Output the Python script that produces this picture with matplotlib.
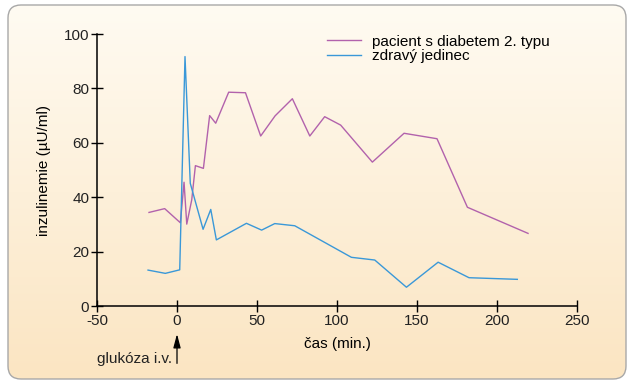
import matplotlib
matplotlib.use("Agg")
import matplotlib.pyplot as plt
import numpy as np
from matplotlib.patches import FancyBboxPatch

plt.rcParams['font.family'] = ['Liberation Sans', 'DejaVu Sans']
plt.rcParams['axes.unicode_minus'] = False

diab_t = [-17.5, -7.7, 2.1, 4.4, 6.1, 9.2, 11.5, 16.5, 20.4, 24.2, 32.3, 42.8, 52.3, 61.3, 72.1, 83.0, 92.3, 102.3, 122.1, 141.9, 162.5, 181.5, 219.4]
diab_v = [34.4, 35.8, 30.6, 45.5, 30.1, 39.0, 51.6, 50.6, 70.0, 67.2, 78.6, 78.4, 62.5, 69.9, 76.2, 62.5, 69.6, 66.5, 52.9, 63.5, 61.5, 36.3, 26.7]
healthy_t = [-18.1, -7.3, 1.7, 5.0, 8.3, 16.3, 21.1, 24.6, 43.4, 52.9, 61.1, 73.6, 109.0, 123.6, 143.4, 163.2, 182.5, 212.7]
healthy_v = [13.2, 12.0, 13.3, 91.7, 45.1, 28.2, 35.5, 24.3, 30.4, 27.9, 30.3, 29.5, 17.9, 16.9, 6.9, 16.1, 10.4, 9.8]
xticks = [-50, 0, 50, 100, 150, 200, 250]
yticks = [0, 20, 40, 60, 80, 100]
labels = ['pacient s diabetem 2. typu', 'zdravý jedinec']

W, H = 633, 385
fs = 11
fig = plt.figure(figsize=(W/100, H/100), dpi=100)
fig.patch.set_facecolor('white')

# background gradient panel
bg = fig.add_axes([0, 0, 1, 1], zorder=-10)
bg.set_xlim(0, W); bg.set_ylim(H, 0); bg.axis('off')
grad = np.linspace(0, 1, 256)[:, None]
top = np.array([255, 251, 242]) / 255
bot = np.array([251, 229, 194]) / 255
img = top[None, None, :] * (1 - grad[..., None]) + bot[None, None, :] * grad[..., None]
img = np.repeat(img, 2, axis=1)
box = FancyBboxPatch((8, 5), 618, 374, boxstyle="round,pad=0,rounding_size=13",
                     facecolor='none', edgecolor='#a8a8a8', linewidth=1.0)
bg.add_patch(box)
im = bg.imshow(img, extent=(8, 626, 379, 5), aspect='auto', zorder=0)
im.set_clip_path(box)

ax = fig.add_axes([97/W, 1 - 306/H, 480/W, 272/H])
ax.patch.set_alpha(0)
ax.plot(diab_t, diab_v, color='#b262ac', lw=1.0, label=labels[0])
ax.plot(healthy_t, healthy_v, color='#3a98d8', lw=1.0, label=labels[1])
ax.set_xlim(-50, 250); ax.set_ylim(0, 100)
ax.set_xticks(xticks); ax.set_yticks(yticks)
for s in ['top', 'right']:
    ax.spines[s].set_visible(False)
for s in ['left', 'bottom']:
    ax.spines[s].set_linewidth(1.1)
    ax.spines[s].set_color('black')
ax.tick_params(direction='inout', length=9, width=1.0, labelsize=fs, colors='black', pad=1)
ax.set_xlabel('čas (min.)', fontsize=fs, labelpad=7)
ax.set_ylabel('inzulinemie (µU/ml)', fontsize=fs, labelpad=9)
for t in ax.get_xticklabels() + ax.get_yticklabels():
    t.set_color('#222222')
leg = ax.legend(loc='upper left', bbox_to_anchor=(0.451, 1.048), frameon=False, fontsize=fs,
                handlelength=2.2, handletextpad=0.7, labelspacing=0.05)

ax.annotate('', xy=(0, -10.3), xytext=(0, -21.1), xycoords='data', textcoords='data',
            arrowprops=dict(arrowstyle='-|>,head_length=0.75,head_width=0.2', color='black',
                            lw=0.9, mutation_scale=11, shrinkA=0, shrinkB=0),
            annotation_clip=False)
ax.text(-3.4, -20.8, 'glukóza i.v.', fontsize=fs, ha='right', va='baseline', color='#222222')

fig.savefig('out.png', dpi=100)
